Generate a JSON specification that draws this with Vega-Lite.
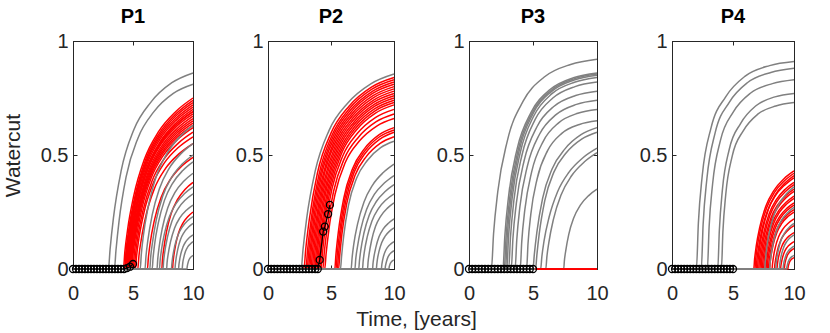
{
"$schema": "https://vega.github.io/schema/vega-lite/v6.json",
"autosize": {"type": "pad"},
"padding": {"left": 1, "top": 6, "right": 5, "bottom": 3},
"config": {
  "font": "Liberation Sans",
  "view": {"stroke": "#262626", "strokeWidth": 1},
  "title": {"font": "Liberation Sans", "fontSize": 20, "fontWeight": "bold", "color": "#000000", "offset": 0, "anchor": "middle"},
  "axis": {"grid": false, "domainColor": "#262626", "tickColor": "#262626", "labelColor": "#262626", "titleColor": "#262626", "labelFont": "Liberation Sans", "titleFont": "Liberation Sans", "labelFontSize": 20, "titleFontSize": 21, "titleFontWeight": "normal", "tickSize": -4, "labelFlush": false, "labelOverlap": false, "labelBound": false, "labelExpr": "'' + datum.value"},
  "axisX": {"labelPadding": 18},
  "axisY": {"labelPadding": 9, "titlePadding": 17}
},
"datasets": {
"P1": [
{"s":"g","c":1,"t":0,"w":0},{"s":"g","c":1,"t":2.95,"w":0},{"s":"g","c":1,"t":3.09,"w":0.086},{"s":"g","c":1,"t":3.37,"w":0.224},{"s":"g","c":1,"t":4.01,"w":0.43},{"s":"g","c":1,"t":5.07,"w":0.611},{"s":"g","c":1,"t":6.48,"w":0.731},{"s":"g","c":1,"t":8.24,"w":0.817},{"s":"g","c":1,"t":10,"w":0.86},
{"s":"g","c":2,"t":0,"w":0},{"s":"g","c":2,"t":3.45,"w":0},{"s":"g","c":2,"t":3.58,"w":0.081},{"s":"g","c":2,"t":3.84,"w":0.211},{"s":"g","c":2,"t":4.43,"w":0.405},{"s":"g","c":2,"t":5.42,"w":0.575},{"s":"g","c":2,"t":6.73,"w":0.689},{"s":"g","c":2,"t":8.36,"w":0.77},{"s":"g","c":2,"t":10,"w":0.81},
{"s":"g","c":3,"t":0,"w":0},{"s":"g","c":3,"t":5.6,"w":0},{"s":"g","c":3,"t":5.69,"w":0.063},{"s":"g","c":3,"t":5.86,"w":0.145},{"s":"g","c":3,"t":6.26,"w":0.271},{"s":"g","c":3,"t":6.92,"w":0.403},{"s":"g","c":3,"t":7.8,"w":0.504},{"s":"g","c":3,"t":8.9,"w":0.58},{"s":"g","c":3,"t":10,"w":0.63},
{"s":"g","c":4,"t":0,"w":0},{"s":"g","c":4,"t":6,"w":0},{"s":"g","c":4,"t":6.08,"w":0.055},{"s":"g","c":4,"t":6.24,"w":0.127},{"s":"g","c":4,"t":6.6,"w":0.237},{"s":"g","c":4,"t":7.2,"w":0.352},{"s":"g","c":4,"t":8,"w":0.44},{"s":"g","c":4,"t":9,"w":0.506},{"s":"g","c":4,"t":10,"w":0.55},
{"s":"g","c":5,"t":0,"w":0},{"s":"g","c":5,"t":6.4,"w":0},{"s":"g","c":5,"t":6.47,"w":0.05},{"s":"g","c":5,"t":6.62,"w":0.115},{"s":"g","c":5,"t":6.94,"w":0.215},{"s":"g","c":5,"t":7.48,"w":0.32},{"s":"g","c":5,"t":8.2,"w":0.4},{"s":"g","c":5,"t":9.1,"w":0.46},{"s":"g","c":5,"t":10,"w":0.5},
{"s":"g","c":6,"t":0,"w":0},{"s":"g","c":6,"t":6.6,"w":0},{"s":"g","c":6,"t":6.67,"w":0.047},{"s":"g","c":6,"t":6.8,"w":0.108},{"s":"g","c":6,"t":7.11,"w":0.202},{"s":"g","c":6,"t":7.62,"w":0.301},{"s":"g","c":6,"t":8.3,"w":0.376},{"s":"g","c":6,"t":9.15,"w":0.432},{"s":"g","c":6,"t":10,"w":0.47},
{"s":"g","c":7,"t":0,"w":0},{"s":"g","c":7,"t":7,"w":0},{"s":"g","c":7,"t":7.06,"w":0.042},{"s":"g","c":7,"t":7.18,"w":0.097},{"s":"g","c":7,"t":7.45,"w":0.181},{"s":"g","c":7,"t":7.9,"w":0.269},{"s":"g","c":7,"t":8.5,"w":0.336},{"s":"g","c":7,"t":9.25,"w":0.386},{"s":"g","c":7,"t":10,"w":0.42},
{"s":"g","c":8,"t":0,"w":0},{"s":"g","c":8,"t":7.2,"w":0},{"s":"g","c":8,"t":7.26,"w":0.036},{"s":"g","c":8,"t":7.37,"w":0.083},{"s":"g","c":8,"t":7.62,"w":0.155},{"s":"g","c":8,"t":8.04,"w":0.23},{"s":"g","c":8,"t":8.6,"w":0.288},{"s":"g","c":8,"t":9.3,"w":0.331},{"s":"g","c":8,"t":10,"w":0.36},
{"s":"g","c":9,"t":0,"w":0},{"s":"g","c":9,"t":7.5,"w":0},{"s":"g","c":9,"t":7.55,"w":0.033},{"s":"g","c":9,"t":7.65,"w":0.076},{"s":"g","c":9,"t":7.88,"w":0.142},{"s":"g","c":9,"t":8.25,"w":0.211},{"s":"g","c":9,"t":8.75,"w":0.264},{"s":"g","c":9,"t":9.38,"w":0.304},{"s":"g","c":9,"t":10,"w":0.33},
{"s":"g","c":10,"t":0,"w":0},{"s":"g","c":10,"t":7.8,"w":0},{"s":"g","c":10,"t":7.84,"w":0.028},{"s":"g","c":10,"t":7.93,"w":0.064},{"s":"g","c":10,"t":8.13,"w":0.12},{"s":"g","c":10,"t":8.46,"w":0.179},{"s":"g","c":10,"t":8.9,"w":0.224},{"s":"g","c":10,"t":9.45,"w":0.258},{"s":"g","c":10,"t":10,"w":0.28},
{"s":"g","c":11,"t":0,"w":0},{"s":"g","c":11,"t":8.2,"w":0},{"s":"g","c":11,"t":8.24,"w":0.023},{"s":"g","c":11,"t":8.31,"w":0.053},{"s":"g","c":11,"t":8.47,"w":0.099},{"s":"g","c":11,"t":8.74,"w":0.147},{"s":"g","c":11,"t":9.1,"w":0.184},{"s":"g","c":11,"t":9.55,"w":0.212},{"s":"g","c":11,"t":10,"w":0.23},
{"s":"g","c":12,"t":0,"w":0},{"s":"g","c":12,"t":8.5,"w":0},{"s":"g","c":12,"t":8.53,"w":0.02},{"s":"g","c":12,"t":8.59,"w":0.046},{"s":"g","c":12,"t":8.73,"w":0.086},{"s":"g","c":12,"t":8.95,"w":0.128},{"s":"g","c":12,"t":9.25,"w":0.16},{"s":"g","c":12,"t":9.63,"w":0.184},{"s":"g","c":12,"t":10,"w":0.2},
{"s":"g","c":13,"t":0,"w":0},{"s":"g","c":13,"t":8.8,"w":0},{"s":"g","c":13,"t":8.82,"w":0.015},{"s":"g","c":13,"t":8.87,"w":0.035},{"s":"g","c":13,"t":8.98,"w":0.065},{"s":"g","c":13,"t":9.16,"w":0.096},{"s":"g","c":13,"t":9.4,"w":0.12},{"s":"g","c":13,"t":9.7,"w":0.138},{"s":"g","c":13,"t":10,"w":0.15},
{"s":"g","c":14,"t":0,"w":0},{"s":"g","c":14,"t":9.1,"w":0},{"s":"g","c":14,"t":9.12,"w":0.012},{"s":"g","c":14,"t":9.15,"w":0.028},{"s":"g","c":14,"t":9.24,"w":0.052},{"s":"g","c":14,"t":9.37,"w":0.077},{"s":"g","c":14,"t":9.55,"w":0.096},{"s":"g","c":14,"t":9.78,"w":0.11},{"s":"g","c":14,"t":10,"w":0.12},
{"s":"g","c":15,"t":0,"w":0},{"s":"g","c":15,"t":9.5,"w":0},{"s":"g","c":15,"t":9.51,"w":0.006},{"s":"g","c":15,"t":9.53,"w":0.014},{"s":"g","c":15,"t":9.58,"w":0.026},{"s":"g","c":15,"t":9.65,"w":0.038},{"s":"g","c":15,"t":9.75,"w":0.048},{"s":"g","c":15,"t":9.88,"w":0.055},{"s":"g","c":15,"t":10,"w":0.06},
{"s":"r","c":1,"t":0,"w":0},{"s":"r","c":1,"t":4.2,"w":0},{"s":"r","c":1,"t":4.32,"w":0.075},{"s":"r","c":1,"t":4.55,"w":0.173},{"s":"r","c":1,"t":5.07,"w":0.323},{"s":"r","c":1,"t":5.94,"w":0.48},{"s":"r","c":1,"t":7.1,"w":0.6},{"s":"r","c":1,"t":8.55,"w":0.69},{"s":"r","c":1,"t":10,"w":0.75},
{"s":"r","c":2,"t":0,"w":0},{"s":"r","c":2,"t":4.3,"w":0},{"s":"r","c":2,"t":4.41,"w":0.074},{"s":"r","c":2,"t":4.64,"w":0.17},{"s":"r","c":2,"t":5.16,"w":0.318},{"s":"r","c":2,"t":6.01,"w":0.474},{"s":"r","c":2,"t":7.15,"w":0.592},{"s":"r","c":2,"t":8.58,"w":0.681},{"s":"r","c":2,"t":10,"w":0.74},
{"s":"r","c":3,"t":0,"w":0},{"s":"r","c":3,"t":4.35,"w":0},{"s":"r","c":3,"t":4.46,"w":0.073},{"s":"r","c":3,"t":4.69,"w":0.168},{"s":"r","c":3,"t":5.2,"w":0.314},{"s":"r","c":3,"t":6.05,"w":0.467},{"s":"r","c":3,"t":7.18,"w":0.584},{"s":"r","c":3,"t":8.59,"w":0.672},{"s":"r","c":3,"t":10,"w":0.73},
{"s":"r","c":4,"t":0,"w":0},{"s":"r","c":4,"t":4.4,"w":0},{"s":"r","c":4,"t":4.51,"w":0.072},{"s":"r","c":4,"t":4.74,"w":0.166},{"s":"r","c":4,"t":5.24,"w":0.31},{"s":"r","c":4,"t":6.08,"w":0.461},{"s":"r","c":4,"t":7.2,"w":0.576},{"s":"r","c":4,"t":8.6,"w":0.662},{"s":"r","c":4,"t":10,"w":0.72},
{"s":"r","c":5,"t":0,"w":0},{"s":"r","c":5,"t":4.45,"w":0},{"s":"r","c":5,"t":4.56,"w":0.071},{"s":"r","c":5,"t":4.78,"w":0.163},{"s":"r","c":5,"t":5.28,"w":0.305},{"s":"r","c":5,"t":6.12,"w":0.454},{"s":"r","c":5,"t":7.23,"w":0.568},{"s":"r","c":5,"t":8.61,"w":0.653},{"s":"r","c":5,"t":10,"w":0.71},
{"s":"r","c":6,"t":0,"w":0},{"s":"r","c":6,"t":4.5,"w":0},{"s":"r","c":6,"t":4.61,"w":0.069},{"s":"r","c":6,"t":4.83,"w":0.159},{"s":"r","c":6,"t":5.33,"w":0.297},{"s":"r","c":6,"t":6.15,"w":0.442},{"s":"r","c":6,"t":7.25,"w":0.552},{"s":"r","c":6,"t":8.63,"w":0.635},{"s":"r","c":6,"t":10,"w":0.69},
{"s":"r","c":7,"t":0,"w":0},{"s":"r","c":7,"t":4.55,"w":0},{"s":"r","c":7,"t":4.66,"w":0.07},{"s":"r","c":7,"t":4.88,"w":0.161},{"s":"r","c":7,"t":5.37,"w":0.301},{"s":"r","c":7,"t":6.19,"w":0.448},{"s":"r","c":7,"t":7.28,"w":0.56},{"s":"r","c":7,"t":8.64,"w":0.644},{"s":"r","c":7,"t":10,"w":0.7},
{"s":"r","c":8,"t":0,"w":0},{"s":"r","c":8,"t":4.6,"w":0},{"s":"r","c":8,"t":4.71,"w":0.068},{"s":"r","c":8,"t":4.92,"w":0.156},{"s":"r","c":8,"t":5.41,"w":0.292},{"s":"r","c":8,"t":6.22,"w":0.435},{"s":"r","c":8,"t":7.3,"w":0.544},{"s":"r","c":8,"t":8.65,"w":0.626},{"s":"r","c":8,"t":10,"w":0.68},
{"s":"r","c":9,"t":0,"w":0},{"s":"r","c":9,"t":4.65,"w":0},{"s":"r","c":9,"t":4.76,"w":0.069},{"s":"r","c":9,"t":4.97,"w":0.159},{"s":"r","c":9,"t":5.45,"w":0.297},{"s":"r","c":9,"t":6.26,"w":0.442},{"s":"r","c":9,"t":7.33,"w":0.552},{"s":"r","c":9,"t":8.66,"w":0.635},{"s":"r","c":9,"t":10,"w":0.69},
{"s":"r","c":10,"t":0,"w":0},{"s":"r","c":10,"t":4.7,"w":0},{"s":"r","c":10,"t":4.81,"w":0.067},{"s":"r","c":10,"t":5.02,"w":0.154},{"s":"r","c":10,"t":5.5,"w":0.288},{"s":"r","c":10,"t":6.29,"w":0.429},{"s":"r","c":10,"t":7.35,"w":0.536},{"s":"r","c":10,"t":8.68,"w":0.616},{"s":"r","c":10,"t":10,"w":0.67},
{"s":"r","c":11,"t":0,"w":0},{"s":"r","c":11,"t":4.75,"w":0},{"s":"r","c":11,"t":4.86,"w":0.066},{"s":"r","c":11,"t":5.07,"w":0.152},{"s":"r","c":11,"t":5.54,"w":0.284},{"s":"r","c":11,"t":6.33,"w":0.422},{"s":"r","c":11,"t":7.38,"w":0.528},{"s":"r","c":11,"t":8.69,"w":0.607},{"s":"r","c":11,"t":10,"w":0.66},
{"s":"r","c":12,"t":0,"w":0},{"s":"r","c":12,"t":4.8,"w":0},{"s":"r","c":12,"t":4.9,"w":0.065},{"s":"r","c":12,"t":5.11,"w":0.15},{"s":"r","c":12,"t":5.58,"w":0.28},{"s":"r","c":12,"t":6.36,"w":0.416},{"s":"r","c":12,"t":7.4,"w":0.52},{"s":"r","c":12,"t":8.7,"w":0.598},{"s":"r","c":12,"t":10,"w":0.65},
{"s":"r","c":13,"t":0,"w":0},{"s":"r","c":13,"t":4.85,"w":0},{"s":"r","c":13,"t":4.95,"w":0.064},{"s":"r","c":13,"t":5.16,"w":0.147},{"s":"r","c":13,"t":5.62,"w":0.275},{"s":"r","c":13,"t":6.4,"w":0.41},{"s":"r","c":13,"t":7.43,"w":0.512},{"s":"r","c":13,"t":8.71,"w":0.589},{"s":"r","c":13,"t":10,"w":0.64},
{"s":"r","c":14,"t":0,"w":0},{"s":"r","c":14,"t":4.9,"w":0},{"s":"r","c":14,"t":5,"w":0.063},{"s":"r","c":14,"t":5.21,"w":0.145},{"s":"r","c":14,"t":5.67,"w":0.271},{"s":"r","c":14,"t":6.43,"w":0.403},{"s":"r","c":14,"t":7.45,"w":0.504},{"s":"r","c":14,"t":8.73,"w":0.58},{"s":"r","c":14,"t":10,"w":0.63},
{"s":"r","c":15,"t":0,"w":0},{"s":"r","c":15,"t":5,"w":0},{"s":"r","c":15,"t":5.1,"w":0.062},{"s":"r","c":15,"t":5.3,"w":0.143},{"s":"r","c":15,"t":5.75,"w":0.267},{"s":"r","c":15,"t":6.5,"w":0.397},{"s":"r","c":15,"t":7.5,"w":0.496},{"s":"r","c":15,"t":8.75,"w":0.57},{"s":"r","c":15,"t":10,"w":0.62},
{"s":"r","c":16,"t":0,"w":0},{"s":"r","c":16,"t":5.1,"w":0},{"s":"r","c":16,"t":5.2,"w":0.06},{"s":"r","c":16,"t":5.39,"w":0.138},{"s":"r","c":16,"t":5.84,"w":0.258},{"s":"r","c":16,"t":6.57,"w":0.384},{"s":"r","c":16,"t":7.55,"w":0.48},{"s":"r","c":16,"t":8.78,"w":0.552},{"s":"r","c":16,"t":10,"w":0.6},
{"s":"r","c":17,"t":0,"w":0},{"s":"r","c":17,"t":5.2,"w":0},{"s":"r","c":17,"t":5.3,"w":0.058},{"s":"r","c":17,"t":5.49,"w":0.133},{"s":"r","c":17,"t":5.92,"w":0.249},{"s":"r","c":17,"t":6.64,"w":0.371},{"s":"r","c":17,"t":7.6,"w":0.464},{"s":"r","c":17,"t":8.8,"w":0.534},{"s":"r","c":17,"t":10,"w":0.58},
{"s":"r","c":18,"t":0,"w":0},{"s":"r","c":18,"t":5.4,"w":0},{"s":"r","c":18,"t":5.49,"w":0.055},{"s":"r","c":18,"t":5.68,"w":0.127},{"s":"r","c":18,"t":6.09,"w":0.237},{"s":"r","c":18,"t":6.78,"w":0.352},{"s":"r","c":18,"t":7.7,"w":0.44},{"s":"r","c":18,"t":8.85,"w":0.506},{"s":"r","c":18,"t":10,"w":0.55},
{"s":"r","c":19,"t":0,"w":0},{"s":"r","c":19,"t":6.2,"w":0},{"s":"r","c":19,"t":6.28,"w":0.049},{"s":"r","c":19,"t":6.43,"w":0.113},{"s":"r","c":19,"t":6.77,"w":0.211},{"s":"r","c":19,"t":7.34,"w":0.314},{"s":"r","c":19,"t":8.1,"w":0.392},{"s":"r","c":19,"t":9.05,"w":0.451},{"s":"r","c":19,"t":10,"w":0.49},
{"s":"r","c":20,"t":0,"w":0},{"s":"r","c":20,"t":7.4,"w":0},{"s":"r","c":20,"t":7.45,"w":0.038},{"s":"r","c":20,"t":7.56,"w":0.087},{"s":"r","c":20,"t":7.79,"w":0.163},{"s":"r","c":20,"t":8.18,"w":0.243},{"s":"r","c":20,"t":8.7,"w":0.304},{"s":"r","c":20,"t":9.35,"w":0.35},{"s":"r","c":20,"t":10,"w":0.38},
{"s":"r","c":21,"t":0,"w":0},{"s":"r","c":21,"t":8.3,"w":0},{"s":"r","c":21,"t":8.33,"w":0.025},{"s":"r","c":21,"t":8.4,"w":0.058},{"s":"r","c":21,"t":8.56,"w":0.108},{"s":"r","c":21,"t":8.81,"w":0.16},{"s":"r","c":21,"t":9.15,"w":0.2},{"s":"r","c":21,"t":9.58,"w":0.23},{"s":"r","c":21,"t":10,"w":0.25},
{"s":"o","c":0,"t":0,"w":0},{"s":"o","c":0,"t":0.25,"w":0},{"s":"o","c":0,"t":0.5,"w":0},{"s":"o","c":0,"t":0.75,"w":0},{"s":"o","c":0,"t":1,"w":0},{"s":"o","c":0,"t":1.25,"w":0},{"s":"o","c":0,"t":1.5,"w":0},{"s":"o","c":0,"t":1.75,"w":0},{"s":"o","c":0,"t":2,"w":0},{"s":"o","c":0,"t":2.25,"w":0},{"s":"o","c":0,"t":2.5,"w":0},{"s":"o","c":0,"t":2.75,"w":0},{"s":"o","c":0,"t":3,"w":0},{"s":"o","c":0,"t":3.25,"w":0},{"s":"o","c":0,"t":3.5,"w":0},{"s":"o","c":0,"t":3.75,"w":0},{"s":"o","c":0,"t":4,"w":0},{"s":"o","c":0,"t":4.25,"w":0},{"s":"o","c":0,"t":4.5,"w":0.004},{"s":"o","c":0,"t":4.75,"w":0.01},{"s":"o","c":0,"t":5,"w":0.022}
],
"P2": [
{"s":"g","c":1,"t":0,"w":0},{"s":"g","c":1,"t":2.63,"w":0},{"s":"g","c":1,"t":2.78,"w":0.086},{"s":"g","c":1,"t":3.07,"w":0.222},{"s":"g","c":1,"t":3.74,"w":0.428},{"s":"g","c":1,"t":4.84,"w":0.607},{"s":"g","c":1,"t":6.32,"w":0.727},{"s":"g","c":1,"t":8.16,"w":0.812},{"s":"g","c":1,"t":10,"w":0.855},
{"s":"g","c":2,"t":0,"w":0},{"s":"g","c":2,"t":5.75,"w":0},{"s":"g","c":2,"t":5.84,"w":0.056},{"s":"g","c":2,"t":6.01,"w":0.146},{"s":"g","c":2,"t":6.39,"w":0.28},{"s":"g","c":2,"t":7.03,"w":0.398},{"s":"g","c":2,"t":7.88,"w":0.476},{"s":"g","c":2,"t":8.94,"w":0.532},{"s":"g","c":2,"t":10,"w":0.56},
{"s":"g","c":3,"t":0,"w":0},{"s":"g","c":3,"t":6.6,"w":0},{"s":"g","c":3,"t":6.67,"w":0.046},{"s":"g","c":3,"t":6.8,"w":0.106},{"s":"g","c":3,"t":7.11,"w":0.198},{"s":"g","c":3,"t":7.62,"w":0.294},{"s":"g","c":3,"t":8.3,"w":0.368},{"s":"g","c":3,"t":9.15,"w":0.423},{"s":"g","c":3,"t":10,"w":0.46},
{"s":"g","c":4,"t":0,"w":0},{"s":"g","c":4,"t":6.9,"w":0},{"s":"g","c":4,"t":6.96,"w":0.041},{"s":"g","c":4,"t":7.09,"w":0.094},{"s":"g","c":4,"t":7.37,"w":0.176},{"s":"g","c":4,"t":7.83,"w":0.262},{"s":"g","c":4,"t":8.45,"w":0.328},{"s":"g","c":4,"t":9.23,"w":0.377},{"s":"g","c":4,"t":10,"w":0.41},
{"s":"g","c":5,"t":0,"w":0},{"s":"g","c":5,"t":7.2,"w":0},{"s":"g","c":5,"t":7.26,"w":0.037},{"s":"g","c":5,"t":7.37,"w":0.085},{"s":"g","c":5,"t":7.62,"w":0.159},{"s":"g","c":5,"t":8.04,"w":0.237},{"s":"g","c":5,"t":8.6,"w":0.296},{"s":"g","c":5,"t":9.3,"w":0.34},{"s":"g","c":5,"t":10,"w":0.37},
{"s":"g","c":6,"t":0,"w":0},{"s":"g","c":6,"t":7.5,"w":0},{"s":"g","c":6,"t":7.55,"w":0.033},{"s":"g","c":6,"t":7.65,"w":0.076},{"s":"g","c":6,"t":7.88,"w":0.142},{"s":"g","c":6,"t":8.25,"w":0.211},{"s":"g","c":6,"t":8.75,"w":0.264},{"s":"g","c":6,"t":9.38,"w":0.304},{"s":"g","c":6,"t":10,"w":0.33},
{"s":"g","c":7,"t":0,"w":0},{"s":"g","c":7,"t":7.9,"w":0},{"s":"g","c":7,"t":7.94,"w":0.029},{"s":"g","c":7,"t":8.03,"w":0.067},{"s":"g","c":7,"t":8.22,"w":0.125},{"s":"g","c":7,"t":8.53,"w":0.186},{"s":"g","c":7,"t":8.95,"w":0.232},{"s":"g","c":7,"t":9.48,"w":0.267},{"s":"g","c":7,"t":10,"w":0.29},
{"s":"g","c":8,"t":0,"w":0},{"s":"g","c":8,"t":8.3,"w":0},{"s":"g","c":8,"t":8.33,"w":0.022},{"s":"g","c":8,"t":8.4,"w":0.051},{"s":"g","c":8,"t":8.56,"w":0.095},{"s":"g","c":8,"t":8.81,"w":0.141},{"s":"g","c":8,"t":9.15,"w":0.176},{"s":"g","c":8,"t":9.58,"w":0.202},{"s":"g","c":8,"t":10,"w":0.22},
{"s":"g","c":9,"t":0,"w":0},{"s":"g","c":9,"t":8.6,"w":0},{"s":"g","c":9,"t":8.63,"w":0.018},{"s":"g","c":9,"t":8.68,"w":0.041},{"s":"g","c":9,"t":8.81,"w":0.077},{"s":"g","c":9,"t":9.02,"w":0.115},{"s":"g","c":9,"t":9.3,"w":0.144},{"s":"g","c":9,"t":9.65,"w":0.166},{"s":"g","c":9,"t":10,"w":0.18},
{"s":"g","c":10,"t":0,"w":0},{"s":"g","c":10,"t":9,"w":0},{"s":"g","c":10,"t":9.02,"w":0.012},{"s":"g","c":10,"t":9.06,"w":0.028},{"s":"g","c":10,"t":9.15,"w":0.052},{"s":"g","c":10,"t":9.3,"w":0.077},{"s":"g","c":10,"t":9.5,"w":0.096},{"s":"g","c":10,"t":9.75,"w":0.11},{"s":"g","c":10,"t":10,"w":0.12},
{"s":"g","c":11,"t":0,"w":0},{"s":"g","c":11,"t":9.3,"w":0},{"s":"g","c":11,"t":9.31,"w":0.008},{"s":"g","c":11,"t":9.34,"w":0.018},{"s":"g","c":11,"t":9.41,"w":0.034},{"s":"g","c":11,"t":9.51,"w":0.051},{"s":"g","c":11,"t":9.65,"w":0.064},{"s":"g","c":11,"t":9.83,"w":0.074},{"s":"g","c":11,"t":10,"w":0.08},
{"s":"g","c":12,"t":0,"w":0},{"s":"g","c":12,"t":9.6,"w":0},{"s":"g","c":12,"t":9.61,"w":0.004},{"s":"g","c":12,"t":9.62,"w":0.009},{"s":"g","c":12,"t":9.66,"w":0.017},{"s":"g","c":12,"t":9.72,"w":0.026},{"s":"g","c":12,"t":9.8,"w":0.032},{"s":"g","c":12,"t":9.9,"w":0.037},{"s":"g","c":12,"t":10,"w":0.04},
{"s":"r","c":1,"t":0,"w":0},{"s":"r","c":1,"t":2.85,"w":0},{"s":"r","c":1,"t":2.99,"w":0.084},{"s":"r","c":1,"t":3.28,"w":0.218},{"s":"r","c":1,"t":3.92,"w":0.42},{"s":"r","c":1,"t":5,"w":0.596},{"s":"r","c":1,"t":6.43,"w":0.714},{"s":"r","c":1,"t":8.21,"w":0.798},{"s":"r","c":1,"t":10,"w":0.84},
{"s":"r","c":2,"t":0,"w":0},{"s":"r","c":2,"t":3,"w":0},{"s":"r","c":2,"t":3.14,"w":0.083},{"s":"r","c":2,"t":3.42,"w":0.216},{"s":"r","c":2,"t":4.05,"w":0.415},{"s":"r","c":2,"t":5.1,"w":0.589},{"s":"r","c":2,"t":6.5,"w":0.706},{"s":"r","c":2,"t":8.25,"w":0.789},{"s":"r","c":2,"t":10,"w":0.83},
{"s":"r","c":3,"t":0,"w":0},{"s":"r","c":3,"t":3.1,"w":0},{"s":"r","c":3,"t":3.24,"w":0.082},{"s":"r","c":3,"t":3.51,"w":0.213},{"s":"r","c":3,"t":4.14,"w":0.41},{"s":"r","c":3,"t":5.17,"w":0.582},{"s":"r","c":3,"t":6.55,"w":0.697},{"s":"r","c":3,"t":8.28,"w":0.779},{"s":"r","c":3,"t":10,"w":0.82},
{"s":"r","c":4,"t":0,"w":0},{"s":"r","c":4,"t":3.2,"w":0},{"s":"r","c":4,"t":3.34,"w":0.081},{"s":"r","c":4,"t":3.61,"w":0.211},{"s":"r","c":4,"t":4.22,"w":0.405},{"s":"r","c":4,"t":5.24,"w":0.575},{"s":"r","c":4,"t":6.6,"w":0.689},{"s":"r","c":4,"t":8.3,"w":0.77},{"s":"r","c":4,"t":10,"w":0.81},
{"s":"r","c":5,"t":0,"w":0},{"s":"r","c":5,"t":3.3,"w":0},{"s":"r","c":5,"t":3.43,"w":0.08},{"s":"r","c":5,"t":3.7,"w":0.208},{"s":"r","c":5,"t":4.31,"w":0.4},{"s":"r","c":5,"t":5.31,"w":0.568},{"s":"r","c":5,"t":6.65,"w":0.68},{"s":"r","c":5,"t":8.33,"w":0.76},{"s":"r","c":5,"t":10,"w":0.8},
{"s":"r","c":6,"t":0,"w":0},{"s":"r","c":6,"t":3.4,"w":0},{"s":"r","c":6,"t":3.53,"w":0.079},{"s":"r","c":6,"t":3.8,"w":0.205},{"s":"r","c":6,"t":4.39,"w":0.395},{"s":"r","c":6,"t":5.38,"w":0.561},{"s":"r","c":6,"t":6.7,"w":0.672},{"s":"r","c":6,"t":8.35,"w":0.751},{"s":"r","c":6,"t":10,"w":0.79},
{"s":"r","c":7,"t":0,"w":0},{"s":"r","c":7,"t":3.5,"w":0},{"s":"r","c":7,"t":3.63,"w":0.078},{"s":"r","c":7,"t":3.89,"w":0.203},{"s":"r","c":7,"t":4.48,"w":0.39},{"s":"r","c":7,"t":5.45,"w":0.554},{"s":"r","c":7,"t":6.75,"w":0.663},{"s":"r","c":7,"t":8.38,"w":0.741},{"s":"r","c":7,"t":10,"w":0.78},
{"s":"r","c":8,"t":0,"w":0},{"s":"r","c":8,"t":3.6,"w":0},{"s":"r","c":8,"t":3.73,"w":0.077},{"s":"r","c":8,"t":3.98,"w":0.2},{"s":"r","c":8,"t":4.56,"w":0.385},{"s":"r","c":8,"t":5.52,"w":0.547},{"s":"r","c":8,"t":6.8,"w":0.655},{"s":"r","c":8,"t":8.4,"w":0.732},{"s":"r","c":8,"t":10,"w":0.77},
{"s":"r","c":9,"t":0,"w":0},{"s":"r","c":9,"t":3.7,"w":0},{"s":"r","c":9,"t":3.83,"w":0.076},{"s":"r","c":9,"t":4.08,"w":0.198},{"s":"r","c":9,"t":4.65,"w":0.38},{"s":"r","c":9,"t":5.59,"w":0.54},{"s":"r","c":9,"t":6.85,"w":0.646},{"s":"r","c":9,"t":8.43,"w":0.722},{"s":"r","c":9,"t":10,"w":0.76},
{"s":"r","c":10,"t":0,"w":0},{"s":"r","c":10,"t":3.8,"w":0},{"s":"r","c":10,"t":3.92,"w":0.075},{"s":"r","c":10,"t":4.17,"w":0.195},{"s":"r","c":10,"t":4.73,"w":0.375},{"s":"r","c":10,"t":5.66,"w":0.533},{"s":"r","c":10,"t":6.9,"w":0.638},{"s":"r","c":10,"t":8.45,"w":0.713},{"s":"r","c":10,"t":10,"w":0.75},
{"s":"r","c":11,"t":0,"w":0},{"s":"r","c":11,"t":3.9,"w":0},{"s":"r","c":11,"t":4.02,"w":0.074},{"s":"r","c":11,"t":4.27,"w":0.192},{"s":"r","c":11,"t":4.82,"w":0.37},{"s":"r","c":11,"t":5.73,"w":0.525},{"s":"r","c":11,"t":6.95,"w":0.629},{"s":"r","c":11,"t":8.48,"w":0.703},{"s":"r","c":11,"t":10,"w":0.74},
{"s":"r","c":12,"t":0,"w":0},{"s":"r","c":12,"t":4,"w":0},{"s":"r","c":12,"t":4.12,"w":0.073},{"s":"r","c":12,"t":4.36,"w":0.19},{"s":"r","c":12,"t":4.9,"w":0.365},{"s":"r","c":12,"t":5.8,"w":0.518},{"s":"r","c":12,"t":7,"w":0.621},{"s":"r","c":12,"t":8.5,"w":0.694},{"s":"r","c":12,"t":10,"w":0.73},
{"s":"r","c":13,"t":0,"w":0},{"s":"r","c":13,"t":4.1,"w":0},{"s":"r","c":13,"t":4.22,"w":0.072},{"s":"r","c":13,"t":4.45,"w":0.187},{"s":"r","c":13,"t":4.99,"w":0.36},{"s":"r","c":13,"t":5.87,"w":0.511},{"s":"r","c":13,"t":7.05,"w":0.612},{"s":"r","c":13,"t":8.53,"w":0.684},{"s":"r","c":13,"t":10,"w":0.72},
{"s":"r","c":14,"t":0,"w":0},{"s":"r","c":14,"t":4.2,"w":0},{"s":"r","c":14,"t":4.32,"w":0.07},{"s":"r","c":14,"t":4.55,"w":0.182},{"s":"r","c":14,"t":5.07,"w":0.35},{"s":"r","c":14,"t":5.94,"w":0.497},{"s":"r","c":14,"t":7.1,"w":0.595},{"s":"r","c":14,"t":8.55,"w":0.665},{"s":"r","c":14,"t":10,"w":0.7},
{"s":"r","c":15,"t":0,"w":0},{"s":"r","c":15,"t":4.35,"w":0},{"s":"r","c":15,"t":4.46,"w":0.068},{"s":"r","c":15,"t":4.69,"w":0.177},{"s":"r","c":15,"t":5.2,"w":0.34},{"s":"r","c":15,"t":6.05,"w":0.483},{"s":"r","c":15,"t":7.18,"w":0.578},{"s":"r","c":15,"t":8.59,"w":0.646},{"s":"r","c":15,"t":10,"w":0.68},
{"s":"r","c":16,"t":0,"w":0},{"s":"r","c":16,"t":4.5,"w":0},{"s":"r","c":16,"t":4.61,"w":0.066},{"s":"r","c":16,"t":4.83,"w":0.172},{"s":"r","c":16,"t":5.33,"w":0.33},{"s":"r","c":16,"t":6.15,"w":0.469},{"s":"r","c":16,"t":7.25,"w":0.561},{"s":"r","c":16,"t":8.63,"w":0.627},{"s":"r","c":16,"t":10,"w":0.66},
{"s":"r","c":17,"t":0,"w":0},{"s":"r","c":17,"t":5.3,"w":0},{"s":"r","c":17,"t":5.39,"w":0.062},{"s":"r","c":17,"t":5.58,"w":0.161},{"s":"r","c":17,"t":6.01,"w":0.31},{"s":"r","c":17,"t":6.71,"w":0.44},{"s":"r","c":17,"t":7.65,"w":0.527},{"s":"r","c":17,"t":8.83,"w":0.589},{"s":"r","c":17,"t":10,"w":0.62},
{"s":"r","c":18,"t":0,"w":0},{"s":"r","c":18,"t":5.4,"w":0},{"s":"r","c":18,"t":5.49,"w":0.061},{"s":"r","c":18,"t":5.68,"w":0.159},{"s":"r","c":18,"t":6.09,"w":0.305},{"s":"r","c":18,"t":6.78,"w":0.433},{"s":"r","c":18,"t":7.7,"w":0.519},{"s":"r","c":18,"t":8.85,"w":0.58},{"s":"r","c":18,"t":10,"w":0.61},
{"s":"r","c":19,"t":0,"w":0},{"s":"r","c":19,"t":5.5,"w":0},{"s":"r","c":19,"t":5.59,"w":0.06},{"s":"r","c":19,"t":5.77,"w":0.156},{"s":"r","c":19,"t":6.18,"w":0.3},{"s":"r","c":19,"t":6.85,"w":0.426},{"s":"r","c":19,"t":7.75,"w":0.51},{"s":"r","c":19,"t":8.88,"w":0.57},{"s":"r","c":19,"t":10,"w":0.6},
{"s":"r","c":20,"t":0,"w":0},{"s":"r","c":20,"t":5.6,"w":0},{"s":"r","c":20,"t":5.69,"w":0.058},{"s":"r","c":20,"t":5.86,"w":0.151},{"s":"r","c":20,"t":6.26,"w":0.29},{"s":"r","c":20,"t":6.92,"w":0.412},{"s":"r","c":20,"t":7.8,"w":0.493},{"s":"r","c":20,"t":8.9,"w":0.551},{"s":"r","c":20,"t":10,"w":0.58},
{"s":"o","c":0,"t":0,"w":0},{"s":"o","c":0,"t":0.25,"w":0},{"s":"o","c":0,"t":0.5,"w":0},{"s":"o","c":0,"t":0.75,"w":0},{"s":"o","c":0,"t":1,"w":0},{"s":"o","c":0,"t":1.25,"w":0},{"s":"o","c":0,"t":1.5,"w":0},{"s":"o","c":0,"t":1.75,"w":0},{"s":"o","c":0,"t":2,"w":0},{"s":"o","c":0,"t":2.25,"w":0},{"s":"o","c":0,"t":2.5,"w":0},{"s":"o","c":0,"t":2.75,"w":0},{"s":"o","c":0,"t":3,"w":0},{"s":"o","c":0,"t":3.25,"w":0},{"s":"o","c":0,"t":3.5,"w":0},{"s":"o","c":0,"t":3.75,"w":0},{"s":"o","c":0,"t":3.95,"w":0},{"s":"o","c":0,"t":4.1,"w":0.04},{"s":"o","c":0,"t":4.38,"w":0.164},{"s":"o","c":0,"t":4.51,"w":0.186},{"s":"o","c":0,"t":4.77,"w":0.241},{"s":"o","c":0,"t":4.91,"w":0.281}
],
"P3": [
{"s":"g","c":1,"t":0,"w":0},{"s":"g","c":1,"t":1.75,"w":0},{"s":"g","c":1,"t":1.92,"w":0.156},{"s":"g","c":1,"t":2.25,"w":0.34},{"s":"g","c":1,"t":2.99,"w":0.561},{"s":"g","c":1,"t":4.23,"w":0.736},{"s":"g","c":1,"t":5.88,"w":0.842},{"s":"g","c":1,"t":7.94,"w":0.897},{"s":"g","c":1,"t":10,"w":0.92},
{"s":"g","c":2,"t":0,"w":0},{"s":"g","c":2,"t":2.65,"w":0},{"s":"g","c":2,"t":2.8,"w":0.146},{"s":"g","c":2,"t":3.09,"w":0.318},{"s":"g","c":2,"t":3.75,"w":0.525},{"s":"g","c":2,"t":4.86,"w":0.688},{"s":"g","c":2,"t":6.33,"w":0.787},{"s":"g","c":2,"t":8.16,"w":0.839},{"s":"g","c":2,"t":10,"w":0.86},
{"s":"g","c":3,"t":0,"w":0},{"s":"g","c":3,"t":2.75,"w":0},{"s":"g","c":3,"t":2.9,"w":0.145},{"s":"g","c":3,"t":3.19,"w":0.316},{"s":"g","c":3,"t":3.84,"w":0.522},{"s":"g","c":3,"t":4.93,"w":0.684},{"s":"g","c":3,"t":6.38,"w":0.782},{"s":"g","c":3,"t":8.19,"w":0.834},{"s":"g","c":3,"t":10,"w":0.855},
{"s":"g","c":4,"t":0,"w":0},{"s":"g","c":4,"t":2.85,"w":0},{"s":"g","c":4,"t":2.99,"w":0.145},{"s":"g","c":4,"t":3.28,"w":0.315},{"s":"g","c":4,"t":3.92,"w":0.519},{"s":"g","c":4,"t":4.99,"w":0.68},{"s":"g","c":4,"t":6.43,"w":0.778},{"s":"g","c":4,"t":8.21,"w":0.829},{"s":"g","c":4,"t":10,"w":0.85},
{"s":"g","c":5,"t":0,"w":0},{"s":"g","c":5,"t":2.95,"w":0},{"s":"g","c":5,"t":3.09,"w":0.143},{"s":"g","c":5,"t":3.37,"w":0.311},{"s":"g","c":5,"t":4.01,"w":0.512},{"s":"g","c":5,"t":5.07,"w":0.672},{"s":"g","c":5,"t":6.48,"w":0.769},{"s":"g","c":5,"t":8.24,"w":0.819},{"s":"g","c":5,"t":10,"w":0.84},
{"s":"g","c":6,"t":0,"w":0},{"s":"g","c":6,"t":3.3,"w":0},{"s":"g","c":6,"t":3.43,"w":0.133},{"s":"g","c":6,"t":3.7,"w":0.289},{"s":"g","c":6,"t":4.31,"w":0.476},{"s":"g","c":6,"t":5.31,"w":0.624},{"s":"g","c":6,"t":6.65,"w":0.714},{"s":"g","c":6,"t":8.33,"w":0.761},{"s":"g","c":6,"t":10,"w":0.78},
{"s":"g","c":7,"t":0,"w":0},{"s":"g","c":7,"t":3.6,"w":0},{"s":"g","c":7,"t":3.73,"w":0.126},{"s":"g","c":7,"t":3.98,"w":0.274},{"s":"g","c":7,"t":4.56,"w":0.451},{"s":"g","c":7,"t":5.52,"w":0.592},{"s":"g","c":7,"t":6.8,"w":0.677},{"s":"g","c":7,"t":8.4,"w":0.722},{"s":"g","c":7,"t":10,"w":0.74},
{"s":"g","c":8,"t":0,"w":0},{"s":"g","c":8,"t":4,"w":0},{"s":"g","c":8,"t":4.12,"w":0.119},{"s":"g","c":8,"t":4.36,"w":0.259},{"s":"g","c":8,"t":4.9,"w":0.427},{"s":"g","c":8,"t":5.8,"w":0.56},{"s":"g","c":8,"t":7,"w":0.641},{"s":"g","c":8,"t":8.5,"w":0.683},{"s":"g","c":8,"t":10,"w":0.7},
{"s":"g","c":9,"t":0,"w":0},{"s":"g","c":9,"t":4.5,"w":0},{"s":"g","c":9,"t":4.61,"w":0.111},{"s":"g","c":9,"t":4.83,"w":0.241},{"s":"g","c":9,"t":5.33,"w":0.397},{"s":"g","c":9,"t":6.15,"w":0.52},{"s":"g","c":9,"t":7.25,"w":0.595},{"s":"g","c":9,"t":8.63,"w":0.634},{"s":"g","c":9,"t":10,"w":0.65},
{"s":"g","c":10,"t":0,"w":0},{"s":"g","c":10,"t":5,"w":0},{"s":"g","c":10,"t":5.1,"w":0.062},{"s":"g","c":10,"t":5.3,"w":0.161},{"s":"g","c":10,"t":5.75,"w":0.31},{"s":"g","c":10,"t":6.5,"w":0.44},{"s":"g","c":10,"t":7.5,"w":0.527},{"s":"g","c":10,"t":8.75,"w":0.589},{"s":"g","c":10,"t":10,"w":0.62},
{"s":"g","c":11,"t":0,"w":0},{"s":"g","c":11,"t":5.2,"w":0},{"s":"g","c":11,"t":5.3,"w":0.06},{"s":"g","c":11,"t":5.49,"w":0.156},{"s":"g","c":11,"t":5.92,"w":0.3},{"s":"g","c":11,"t":6.64,"w":0.426},{"s":"g","c":11,"t":7.6,"w":0.51},{"s":"g","c":11,"t":8.8,"w":0.57},{"s":"g","c":11,"t":10,"w":0.6},
{"s":"g","c":12,"t":0,"w":0},{"s":"g","c":12,"t":5.6,"w":0},{"s":"g","c":12,"t":5.69,"w":0.053},{"s":"g","c":12,"t":5.86,"w":0.122},{"s":"g","c":12,"t":6.26,"w":0.228},{"s":"g","c":12,"t":6.92,"w":0.339},{"s":"g","c":12,"t":7.8,"w":0.424},{"s":"g","c":12,"t":8.9,"w":0.488},{"s":"g","c":12,"t":10,"w":0.53},
{"s":"g","c":13,"t":0,"w":0},{"s":"g","c":13,"t":6,"w":0},{"s":"g","c":13,"t":6.08,"w":0.051},{"s":"g","c":13,"t":6.24,"w":0.117},{"s":"g","c":13,"t":6.6,"w":0.219},{"s":"g","c":13,"t":7.2,"w":0.326},{"s":"g","c":13,"t":8,"w":0.408},{"s":"g","c":13,"t":9,"w":0.469},{"s":"g","c":13,"t":10,"w":0.51},
{"s":"g","c":14,"t":0,"w":0},{"s":"g","c":14,"t":7.4,"w":0},{"s":"g","c":14,"t":7.45,"w":0.035},{"s":"g","c":14,"t":7.56,"w":0.081},{"s":"g","c":14,"t":7.79,"w":0.151},{"s":"g","c":14,"t":8.18,"w":0.224},{"s":"g","c":14,"t":8.7,"w":0.28},{"s":"g","c":14,"t":9.35,"w":0.322},{"s":"g","c":14,"t":10,"w":0.35},
{"s":"g","c":15,"t":0,"w":0},{"s":"g","c":15,"t":3.1,"w":0},{"s":"g","c":15,"t":3.24,"w":0.139},{"s":"g","c":15,"t":3.51,"w":0.303},{"s":"g","c":15,"t":4.14,"w":0.5},{"s":"g","c":15,"t":5.17,"w":0.656},{"s":"g","c":15,"t":6.55,"w":0.75},{"s":"g","c":15,"t":8.28,"w":0.8},{"s":"g","c":15,"t":10,"w":0.82},
{"s":"r","c":1,"t":5.2,"w":0},{"s":"r","c":1,"t":10,"w":0},
{"s":"r","c":2,"t":5.2,"w":0},{"s":"r","c":2,"t":10,"w":0},
{"s":"r","c":3,"t":5.2,"w":0},{"s":"r","c":3,"t":10,"w":0},
{"s":"o","c":0,"t":0,"w":0},{"s":"o","c":0,"t":0.25,"w":0},{"s":"o","c":0,"t":0.5,"w":0},{"s":"o","c":0,"t":0.75,"w":0},{"s":"o","c":0,"t":1,"w":0},{"s":"o","c":0,"t":1.25,"w":0},{"s":"o","c":0,"t":1.5,"w":0},{"s":"o","c":0,"t":1.75,"w":0},{"s":"o","c":0,"t":2,"w":0},{"s":"o","c":0,"t":2.25,"w":0},{"s":"o","c":0,"t":2.5,"w":0},{"s":"o","c":0,"t":2.75,"w":0},{"s":"o","c":0,"t":3,"w":0},{"s":"o","c":0,"t":3.25,"w":0},{"s":"o","c":0,"t":3.5,"w":0},{"s":"o","c":0,"t":3.75,"w":0},{"s":"o","c":0,"t":4,"w":0},{"s":"o","c":0,"t":4.25,"w":0},{"s":"o","c":0,"t":4.5,"w":0},{"s":"o","c":0,"t":4.75,"w":0},{"s":"o","c":0,"t":5,"w":0}
],
"P4": [
{"s":"g","c":1,"t":0,"w":0},{"s":"g","c":1,"t":2,"w":0},{"s":"g","c":1,"t":2.16,"w":0.2},{"s":"g","c":1,"t":2.48,"w":0.41},{"s":"g","c":1,"t":3.2,"w":0.619},{"s":"g","c":1,"t":4.4,"w":0.755},{"s":"g","c":1,"t":6,"w":0.846},{"s":"g","c":1,"t":8,"w":0.892},{"s":"g","c":1,"t":10,"w":0.91},
{"s":"g","c":2,"t":0,"w":0},{"s":"g","c":2,"t":2.4,"w":0},{"s":"g","c":2,"t":2.55,"w":0.194},{"s":"g","c":2,"t":2.86,"w":0.396},{"s":"g","c":2,"t":3.54,"w":0.598},{"s":"g","c":2,"t":4.68,"w":0.73},{"s":"g","c":2,"t":6.2,"w":0.818},{"s":"g","c":2,"t":8.1,"w":0.862},{"s":"g","c":2,"t":10,"w":0.88},
{"s":"g","c":3,"t":0,"w":0},{"s":"g","c":3,"t":2.9,"w":0},{"s":"g","c":3,"t":3.04,"w":0.183},{"s":"g","c":3,"t":3.33,"w":0.374},{"s":"g","c":3,"t":3.97,"w":0.564},{"s":"g","c":3,"t":5.03,"w":0.689},{"s":"g","c":3,"t":6.45,"w":0.772},{"s":"g","c":3,"t":8.23,"w":0.813},{"s":"g","c":3,"t":10,"w":0.83},
{"s":"g","c":4,"t":0,"w":0},{"s":"g","c":4,"t":3.75,"w":0},{"s":"g","c":4,"t":3.88,"w":0.169},{"s":"g","c":4,"t":4.13,"w":0.347},{"s":"g","c":4,"t":4.69,"w":0.524},{"s":"g","c":4,"t":5.63,"w":0.639},{"s":"g","c":4,"t":6.88,"w":0.716},{"s":"g","c":4,"t":8.44,"w":0.755},{"s":"g","c":4,"t":10,"w":0.77},
{"s":"g","c":5,"t":0,"w":0},{"s":"g","c":5,"t":4.05,"w":0},{"s":"g","c":5,"t":4.17,"w":0.161},{"s":"g","c":5,"t":4.41,"w":0.329},{"s":"g","c":5,"t":4.94,"w":0.496},{"s":"g","c":5,"t":5.84,"w":0.606},{"s":"g","c":5,"t":7.03,"w":0.679},{"s":"g","c":5,"t":8.51,"w":0.715},{"s":"g","c":5,"t":10,"w":0.73},
{"s":"g","c":6,"t":0,"w":0},{"s":"g","c":6,"t":7.6,"w":0},{"s":"g","c":6,"t":7.65,"w":0.036},{"s":"g","c":6,"t":7.74,"w":0.083},{"s":"g","c":6,"t":7.96,"w":0.155},{"s":"g","c":6,"t":8.32,"w":0.23},{"s":"g","c":6,"t":8.8,"w":0.288},{"s":"g","c":6,"t":9.4,"w":0.331},{"s":"g","c":6,"t":10,"w":0.36},
{"s":"g","c":7,"t":0,"w":0},{"s":"g","c":7,"t":8,"w":0},{"s":"g","c":7,"t":8.04,"w":0.027},{"s":"g","c":7,"t":8.12,"w":0.062},{"s":"g","c":7,"t":8.3,"w":0.116},{"s":"g","c":7,"t":8.6,"w":0.173},{"s":"g","c":7,"t":9,"w":0.216},{"s":"g","c":7,"t":9.5,"w":0.248},{"s":"g","c":7,"t":10,"w":0.27},
{"s":"g","c":8,"t":0,"w":0},{"s":"g","c":8,"t":8.5,"w":0},{"s":"g","c":8,"t":8.53,"w":0.02},{"s":"g","c":8,"t":8.59,"w":0.046},{"s":"g","c":8,"t":8.73,"w":0.086},{"s":"g","c":8,"t":8.95,"w":0.128},{"s":"g","c":8,"t":9.25,"w":0.16},{"s":"g","c":8,"t":9.63,"w":0.184},{"s":"g","c":8,"t":10,"w":0.2},
{"s":"g","c":9,"t":0,"w":0},{"s":"g","c":9,"t":8.8,"w":0},{"s":"g","c":9,"t":8.82,"w":0.015},{"s":"g","c":9,"t":8.87,"w":0.035},{"s":"g","c":9,"t":8.98,"w":0.065},{"s":"g","c":9,"t":9.16,"w":0.096},{"s":"g","c":9,"t":9.4,"w":0.12},{"s":"g","c":9,"t":9.7,"w":0.138},{"s":"g","c":9,"t":10,"w":0.15},
{"s":"g","c":10,"t":0,"w":0},{"s":"g","c":10,"t":9.1,"w":0},{"s":"g","c":10,"t":9.12,"w":0.01},{"s":"g","c":10,"t":9.15,"w":0.023},{"s":"g","c":10,"t":9.24,"w":0.043},{"s":"g","c":10,"t":9.37,"w":0.064},{"s":"g","c":10,"t":9.55,"w":0.08},{"s":"g","c":10,"t":9.78,"w":0.092},{"s":"g","c":10,"t":10,"w":0.1},
{"s":"g","c":11,"t":0,"w":0},{"s":"g","c":11,"t":9.4,"w":0},{"s":"g","c":11,"t":9.41,"w":0.006},{"s":"g","c":11,"t":9.44,"w":0.014},{"s":"g","c":11,"t":9.49,"w":0.026},{"s":"g","c":11,"t":9.58,"w":0.038},{"s":"g","c":11,"t":9.7,"w":0.048},{"s":"g","c":11,"t":9.85,"w":0.055},{"s":"g","c":11,"t":10,"w":0.06},
{"s":"r","c":1,"t":0,"w":0},{"s":"r","c":1,"t":6.7,"w":0},{"s":"r","c":1,"t":6.77,"w":0.043},{"s":"r","c":1,"t":6.9,"w":0.099},{"s":"r","c":1,"t":7.2,"w":0.185},{"s":"r","c":1,"t":7.69,"w":0.275},{"s":"r","c":1,"t":8.35,"w":0.344},{"s":"r","c":1,"t":9.18,"w":0.396},{"s":"r","c":1,"t":10,"w":0.43},
{"s":"r","c":2,"t":0,"w":0},{"s":"r","c":2,"t":6.8,"w":0},{"s":"r","c":2,"t":6.86,"w":0.042},{"s":"r","c":2,"t":6.99,"w":0.097},{"s":"r","c":2,"t":7.28,"w":0.181},{"s":"r","c":2,"t":7.76,"w":0.269},{"s":"r","c":2,"t":8.4,"w":0.336},{"s":"r","c":2,"t":9.2,"w":0.386},{"s":"r","c":2,"t":10,"w":0.42},
{"s":"r","c":3,"t":0,"w":0},{"s":"r","c":3,"t":6.9,"w":0},{"s":"r","c":3,"t":6.96,"w":0.04},{"s":"r","c":3,"t":7.09,"w":0.092},{"s":"r","c":3,"t":7.37,"w":0.172},{"s":"r","c":3,"t":7.83,"w":0.256},{"s":"r","c":3,"t":8.45,"w":0.32},{"s":"r","c":3,"t":9.23,"w":0.368},{"s":"r","c":3,"t":10,"w":0.4},
{"s":"r","c":4,"t":0,"w":0},{"s":"r","c":4,"t":7,"w":0},{"s":"r","c":4,"t":7.06,"w":0.041},{"s":"r","c":4,"t":7.18,"w":0.094},{"s":"r","c":4,"t":7.45,"w":0.176},{"s":"r","c":4,"t":7.9,"w":0.262},{"s":"r","c":4,"t":8.5,"w":0.328},{"s":"r","c":4,"t":9.25,"w":0.377},{"s":"r","c":4,"t":10,"w":0.41},
{"s":"r","c":5,"t":0,"w":0},{"s":"r","c":5,"t":7.1,"w":0},{"s":"r","c":5,"t":7.16,"w":0.038},{"s":"r","c":5,"t":7.27,"w":0.087},{"s":"r","c":5,"t":7.54,"w":0.163},{"s":"r","c":5,"t":7.97,"w":0.243},{"s":"r","c":5,"t":8.55,"w":0.304},{"s":"r","c":5,"t":9.28,"w":0.35},{"s":"r","c":5,"t":10,"w":0.38},
{"s":"r","c":6,"t":0,"w":0},{"s":"r","c":6,"t":7.2,"w":0},{"s":"r","c":6,"t":7.26,"w":0.037},{"s":"r","c":6,"t":7.37,"w":0.085},{"s":"r","c":6,"t":7.62,"w":0.159},{"s":"r","c":6,"t":8.04,"w":0.237},{"s":"r","c":6,"t":8.6,"w":0.296},{"s":"r","c":6,"t":9.3,"w":0.34},{"s":"r","c":6,"t":10,"w":0.37},
{"s":"r","c":7,"t":0,"w":0},{"s":"r","c":7,"t":7.3,"w":0},{"s":"r","c":7,"t":7.35,"w":0.035},{"s":"r","c":7,"t":7.46,"w":0.081},{"s":"r","c":7,"t":7.71,"w":0.151},{"s":"r","c":7,"t":8.11,"w":0.224},{"s":"r","c":7,"t":8.65,"w":0.28},{"s":"r","c":7,"t":9.33,"w":0.322},{"s":"r","c":7,"t":10,"w":0.35},
{"s":"r","c":8,"t":0,"w":0},{"s":"r","c":8,"t":7.4,"w":0},{"s":"r","c":8,"t":7.45,"w":0.034},{"s":"r","c":8,"t":7.56,"w":0.078},{"s":"r","c":8,"t":7.79,"w":0.146},{"s":"r","c":8,"t":8.18,"w":0.218},{"s":"r","c":8,"t":8.7,"w":0.272},{"s":"r","c":8,"t":9.35,"w":0.313},{"s":"r","c":8,"t":10,"w":0.34},
{"s":"r","c":9,"t":0,"w":0},{"s":"r","c":9,"t":7.5,"w":0},{"s":"r","c":9,"t":7.55,"w":0.032},{"s":"r","c":9,"t":7.65,"w":0.074},{"s":"r","c":9,"t":7.88,"w":0.138},{"s":"r","c":9,"t":8.25,"w":0.205},{"s":"r","c":9,"t":8.75,"w":0.256},{"s":"r","c":9,"t":9.38,"w":0.294},{"s":"r","c":9,"t":10,"w":0.32},
{"s":"r","c":10,"t":0,"w":0},{"s":"r","c":10,"t":7.6,"w":0},{"s":"r","c":10,"t":7.65,"w":0.031},{"s":"r","c":10,"t":7.74,"w":0.071},{"s":"r","c":10,"t":7.96,"w":0.133},{"s":"r","c":10,"t":8.32,"w":0.198},{"s":"r","c":10,"t":8.8,"w":0.248},{"s":"r","c":10,"t":9.4,"w":0.285},{"s":"r","c":10,"t":10,"w":0.31},
{"s":"r","c":11,"t":0,"w":0},{"s":"r","c":11,"t":7.7,"w":0},{"s":"r","c":11,"t":7.75,"w":0.029},{"s":"r","c":11,"t":7.84,"w":0.067},{"s":"r","c":11,"t":8.05,"w":0.125},{"s":"r","c":11,"t":8.39,"w":0.186},{"s":"r","c":11,"t":8.85,"w":0.232},{"s":"r","c":11,"t":9.43,"w":0.267},{"s":"r","c":11,"t":10,"w":0.29},
{"s":"r","c":12,"t":0,"w":0},{"s":"r","c":12,"t":7.8,"w":0},{"s":"r","c":12,"t":7.84,"w":0.028},{"s":"r","c":12,"t":7.93,"w":0.064},{"s":"r","c":12,"t":8.13,"w":0.12},{"s":"r","c":12,"t":8.46,"w":0.179},{"s":"r","c":12,"t":8.9,"w":0.224},{"s":"r","c":12,"t":9.45,"w":0.258},{"s":"r","c":12,"t":10,"w":0.28},
{"s":"r","c":13,"t":0,"w":0},{"s":"r","c":13,"t":7.9,"w":0},{"s":"r","c":13,"t":7.94,"w":0.026},{"s":"r","c":13,"t":8.03,"w":0.06},{"s":"r","c":13,"t":8.22,"w":0.112},{"s":"r","c":13,"t":8.53,"w":0.166},{"s":"r","c":13,"t":8.95,"w":0.208},{"s":"r","c":13,"t":9.48,"w":0.239},{"s":"r","c":13,"t":10,"w":0.26},
{"s":"r","c":14,"t":0,"w":0},{"s":"r","c":14,"t":8,"w":0},{"s":"r","c":14,"t":8.04,"w":0.025},{"s":"r","c":14,"t":8.12,"w":0.058},{"s":"r","c":14,"t":8.3,"w":0.108},{"s":"r","c":14,"t":8.6,"w":0.16},{"s":"r","c":14,"t":9,"w":0.2},{"s":"r","c":14,"t":9.5,"w":0.23},{"s":"r","c":14,"t":10,"w":0.25},
{"s":"r","c":15,"t":0,"w":0},{"s":"r","c":15,"t":8.2,"w":0},{"s":"r","c":15,"t":8.24,"w":0.022},{"s":"r","c":15,"t":8.31,"w":0.051},{"s":"r","c":15,"t":8.47,"w":0.095},{"s":"r","c":15,"t":8.74,"w":0.141},{"s":"r","c":15,"t":9.1,"w":0.176},{"s":"r","c":15,"t":9.55,"w":0.202},{"s":"r","c":15,"t":10,"w":0.22},
{"s":"r","c":16,"t":0,"w":0},{"s":"r","c":16,"t":8.4,"w":0},{"s":"r","c":16,"t":8.43,"w":0.019},{"s":"r","c":16,"t":8.5,"w":0.044},{"s":"r","c":16,"t":8.64,"w":0.082},{"s":"r","c":16,"t":8.88,"w":0.122},{"s":"r","c":16,"t":9.2,"w":0.152},{"s":"r","c":16,"t":9.6,"w":0.175},{"s":"r","c":16,"t":10,"w":0.19},
{"s":"r","c":17,"t":0,"w":0},{"s":"r","c":17,"t":8.6,"w":0},{"s":"r","c":17,"t":8.63,"w":0.016},{"s":"r","c":17,"t":8.68,"w":0.037},{"s":"r","c":17,"t":8.81,"w":0.069},{"s":"r","c":17,"t":9.02,"w":0.102},{"s":"r","c":17,"t":9.3,"w":0.128},{"s":"r","c":17,"t":9.65,"w":0.147},{"s":"r","c":17,"t":10,"w":0.16},
{"s":"r","c":18,"t":0,"w":0},{"s":"r","c":18,"t":8.9,"w":0},{"s":"r","c":18,"t":8.92,"w":0.012},{"s":"r","c":18,"t":8.97,"w":0.028},{"s":"r","c":18,"t":9.07,"w":0.052},{"s":"r","c":18,"t":9.23,"w":0.077},{"s":"r","c":18,"t":9.45,"w":0.096},{"s":"r","c":18,"t":9.73,"w":0.11},{"s":"r","c":18,"t":10,"w":0.12},
{"s":"r","c":19,"t":0,"w":0},{"s":"r","c":19,"t":9.2,"w":0},{"s":"r","c":19,"t":9.22,"w":0.009},{"s":"r","c":19,"t":9.25,"w":0.021},{"s":"r","c":19,"t":9.32,"w":0.039},{"s":"r","c":19,"t":9.44,"w":0.058},{"s":"r","c":19,"t":9.6,"w":0.072},{"s":"r","c":19,"t":9.8,"w":0.083},{"s":"r","c":19,"t":10,"w":0.09},
{"s":"r","c":20,"t":0,"w":0},{"s":"r","c":20,"t":9.5,"w":0},{"s":"r","c":20,"t":9.51,"w":0.005},{"s":"r","c":20,"t":9.53,"w":0.012},{"s":"r","c":20,"t":9.58,"w":0.022},{"s":"r","c":20,"t":9.65,"w":0.032},{"s":"r","c":20,"t":9.75,"w":0.04},{"s":"r","c":20,"t":9.88,"w":0.046},{"s":"r","c":20,"t":10,"w":0.05},
{"s":"o","c":0,"t":0,"w":0},{"s":"o","c":0,"t":0.25,"w":0},{"s":"o","c":0,"t":0.5,"w":0},{"s":"o","c":0,"t":0.75,"w":0},{"s":"o","c":0,"t":1,"w":0},{"s":"o","c":0,"t":1.25,"w":0},{"s":"o","c":0,"t":1.5,"w":0},{"s":"o","c":0,"t":1.75,"w":0},{"s":"o","c":0,"t":2,"w":0},{"s":"o","c":0,"t":2.25,"w":0},{"s":"o","c":0,"t":2.5,"w":0},{"s":"o","c":0,"t":2.75,"w":0},{"s":"o","c":0,"t":3,"w":0},{"s":"o","c":0,"t":3.25,"w":0},{"s":"o","c":0,"t":3.5,"w":0},{"s":"o","c":0,"t":3.75,"w":0},{"s":"o","c":0,"t":4,"w":0},{"s":"o","c":0,"t":4.25,"w":0},{"s":"o","c":0,"t":4.5,"w":0},{"s":"o","c":0,"t":4.75,"w":0},{"s":"o","c":0,"t":5,"w":0}
]
},
"bounds": "flush",
"spacing": 75,
"hconcat": [
{
"title": "P1", "width": 120, "height": 228, "data": {"name": "P1"},
"resolve": {"axis": {"x": "independent", "y": "independent"}},
"layer": [
{"transform": [{"filter": "datum.s === 'r'"}], "mark": {"type": "line", "color": "#ff0000", "strokeWidth": 1.5, "interpolate": "monotone"},
 "encoding": {"x": {"field": "t", "type": "quantitative", "scale": {"domain": [0, 10], "nice": false, "zero": false}, "axis": {"orient": "bottom", "values": [0, 5, 10], "title": null}},
  "y": {"field": "w", "type": "quantitative", "scale": {"domain": [0, 1], "nice": false}, "axis": {"orient": "left", "values": [0, 0.5, 1], "title": "Watercut"}},
  "detail": {"field": "c"}}},
{"transform": [{"filter": "datum.s === 'g'"}], "mark": {"type": "line", "color": "#808080", "strokeWidth": 1.5, "interpolate": "monotone"},
 "encoding": {"x": {"field": "t", "type": "quantitative", "axis": null}, "y": {"field": "w", "type": "quantitative", "axis": null}, "detail": {"field": "c"}}},
{"transform": [{"filter": "datum.s === 'o'"}], "mark": {"type": "line", "color": "#000000", "strokeWidth": 1.2},
 "encoding": {"x": {"field": "t", "type": "quantitative", "axis": null}, "y": {"field": "w", "type": "quantitative", "axis": null}}},
{"transform": [{"filter": "datum.s === 'o'"}], "mark": {"type": "point", "shape": "circle", "filled": false, "stroke": "#000000", "strokeWidth": 1.3, "size": 49, "opacity": 1},
 "encoding": {"x": {"field": "t", "type": "quantitative", "axis": {"orient": "top", "values": [0, 5, 10], "labels": false, "title": null}},
  "y": {"field": "w", "type": "quantitative", "axis": {"orient": "right", "values": [0, 0.5, 1], "labels": false, "title": null}}}}
]
},
{
"title": "P2", "width": 126, "height": 228, "data": {"name": "P2"},
"resolve": {"axis": {"x": "independent", "y": "independent"}},
"layer": [
{"transform": [{"filter": "datum.s === 'r'"}], "mark": {"type": "line", "color": "#ff0000", "strokeWidth": 1.5, "interpolate": "monotone"},
 "encoding": {"x": {"field": "t", "type": "quantitative", "scale": {"domain": [0, 10], "nice": false, "zero": false}, "axis": {"orient": "bottom", "values": [0, 5, 10], "title": "Time, [years]", "titleX": 148, "titleY": 56, "titleBaseline": "alphabetic", "titleAlign": "center", "titleAnchor": null}},
  "y": {"field": "w", "type": "quantitative", "scale": {"domain": [0, 1], "nice": false}, "axis": {"orient": "left", "values": [0, 0.5, 1], "title": null}},
  "detail": {"field": "c"}}},
{"transform": [{"filter": "datum.s === 'g'"}], "mark": {"type": "line", "color": "#808080", "strokeWidth": 1.5, "interpolate": "monotone"},
 "encoding": {"x": {"field": "t", "type": "quantitative", "axis": null}, "y": {"field": "w", "type": "quantitative", "axis": null}, "detail": {"field": "c"}}},
{"transform": [{"filter": "datum.s === 'o'"}], "mark": {"type": "line", "color": "#000000", "strokeWidth": 1.2},
 "encoding": {"x": {"field": "t", "type": "quantitative", "axis": null}, "y": {"field": "w", "type": "quantitative", "axis": null}}},
{"transform": [{"filter": "datum.s === 'o'"}], "mark": {"type": "point", "shape": "circle", "filled": false, "stroke": "#000000", "strokeWidth": 1.3, "size": 49, "opacity": 1},
 "encoding": {"x": {"field": "t", "type": "quantitative", "axis": {"orient": "top", "values": [0, 5, 10], "labels": false, "title": null}},
  "y": {"field": "w", "type": "quantitative", "axis": {"orient": "right", "values": [0, 0.5, 1], "labels": false, "title": null}}}}
]
},
{
"title": "P3", "width": 128, "height": 228, "data": {"name": "P3"},
"resolve": {"axis": {"x": "independent", "y": "independent"}},
"layer": [
{"transform": [{"filter": "datum.s === 'g'"}], "mark": {"type": "line", "color": "#808080", "strokeWidth": 1.5, "interpolate": "monotone"},
 "encoding": {"x": {"field": "t", "type": "quantitative", "scale": {"domain": [0, 10], "nice": false, "zero": false}, "axis": {"orient": "bottom", "values": [0, 5, 10], "title": null}},
  "y": {"field": "w", "type": "quantitative", "scale": {"domain": [0, 1], "nice": false}, "axis": {"orient": "left", "values": [0, 0.5, 1], "title": null}},
  "detail": {"field": "c"}}},
{"transform": [{"filter": "datum.s === 'r'"}], "mark": {"type": "line", "color": "#ff0000", "strokeWidth": 1.5},
 "encoding": {"x": {"field": "t", "type": "quantitative", "axis": null}, "y": {"field": "w", "type": "quantitative", "axis": null}, "detail": {"field": "c"}}},
{"transform": [{"filter": "datum.s === 'o'"}], "mark": {"type": "line", "color": "#000000", "strokeWidth": 1.2},
 "encoding": {"x": {"field": "t", "type": "quantitative", "axis": null}, "y": {"field": "w", "type": "quantitative", "axis": null}}},
{"transform": [{"filter": "datum.s === 'o'"}], "mark": {"type": "point", "shape": "circle", "filled": false, "stroke": "#000000", "strokeWidth": 1.3, "size": 49, "opacity": 1},
 "encoding": {"x": {"field": "t", "type": "quantitative", "axis": {"orient": "top", "values": [0, 5, 10], "labels": false, "title": null}},
  "y": {"field": "w", "type": "quantitative", "axis": {"orient": "right", "values": [0, 0.5, 1], "labels": false, "title": null}}}}
]
},
{
"title": "P4", "width": 122, "height": 228, "data": {"name": "P4"},
"resolve": {"axis": {"x": "independent", "y": "independent"}},
"layer": [
{"transform": [{"filter": "datum.s === 'r'"}], "mark": {"type": "line", "color": "#ff0000", "strokeWidth": 1.5, "interpolate": "monotone"},
 "encoding": {"x": {"field": "t", "type": "quantitative", "scale": {"domain": [0, 10], "nice": false, "zero": false}, "axis": {"orient": "bottom", "values": [0, 5, 10], "title": null}},
  "y": {"field": "w", "type": "quantitative", "scale": {"domain": [0, 1], "nice": false}, "axis": {"orient": "left", "values": [0, 0.5, 1], "title": null}},
  "detail": {"field": "c"}}},
{"transform": [{"filter": "datum.s === 'g'"}], "mark": {"type": "line", "color": "#808080", "strokeWidth": 1.5, "interpolate": "monotone"},
 "encoding": {"x": {"field": "t", "type": "quantitative", "axis": null}, "y": {"field": "w", "type": "quantitative", "axis": null}, "detail": {"field": "c"}}},
{"transform": [{"filter": "datum.s === 'o'"}], "mark": {"type": "line", "color": "#000000", "strokeWidth": 1.2},
 "encoding": {"x": {"field": "t", "type": "quantitative", "axis": null}, "y": {"field": "w", "type": "quantitative", "axis": null}}},
{"transform": [{"filter": "datum.s === 'o'"}], "mark": {"type": "point", "shape": "circle", "filled": false, "stroke": "#000000", "strokeWidth": 1.3, "size": 49, "opacity": 1},
 "encoding": {"x": {"field": "t", "type": "quantitative", "axis": {"orient": "top", "values": [0, 5, 10], "labels": false, "title": null}},
  "y": {"field": "w", "type": "quantitative", "axis": {"orient": "right", "values": [0, 0.5, 1], "labels": false, "title": null}}}}
]
}
]
}
